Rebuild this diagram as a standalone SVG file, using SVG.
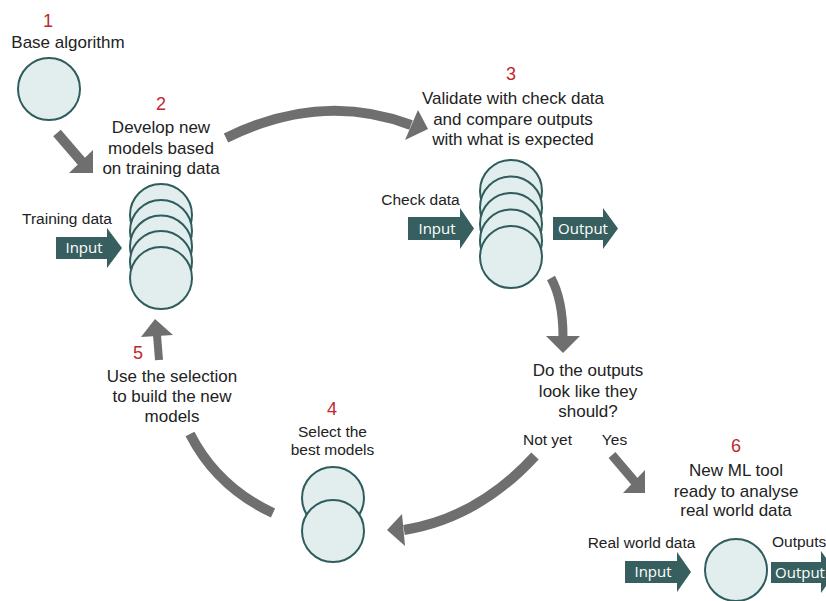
<svg xmlns="http://www.w3.org/2000/svg" width="826" height="601" viewBox="0 0 826 601">
<style>
.c{fill:#e2eeee;stroke:#2f5c5c;stroke-width:2}
.box{fill:#385f60}
.bt{font-family:"Open Sans","Noto Sans",sans-serif;font-size:15px;fill:#ffffff;text-anchor:middle}
.t{font-family:"Liberation Sans",Arial,sans-serif;font-size:17px;fill:#222222;text-anchor:middle}
.s{font-family:"Liberation Sans",Arial,sans-serif;font-size:15.5px;fill:#222222;text-anchor:middle}
.n{font-family:"Liberation Sans",Arial,sans-serif;font-size:18px;fill:#c0272d;text-anchor:middle}
.sh{fill:none;stroke:#6f6f6f;stroke-width:10;stroke-linecap:butt}
.hd{fill:#6f6f6f}
</style>
<rect width="826" height="601" fill="#ffffff"/>

<g id="connectors">
  <line class="sh" x1="57" y1="133" x2="82" y2="162"/>
  <polygon class="hd" points="69,173 93,150 93,173"/>
  <path class="sh" d="M226,138 Q321,91 411,125"/>
  <polygon class="hd" points="418,110 405,140 428,129"/>
  <path class="sh" style="stroke-width:9" d="M551,278 Q563,300 563,337"/>
  <polygon class="hd" points="546,336 580,336 563,353"/>
  <path class="sh" d="M535,456 Q478,518 404,530"/>
  <polygon class="hd" points="402,514 405,546 387,530"/>
  <line class="sh" style="stroke-width:9" x1="612" y1="455" x2="635" y2="482"/>
  <polygon class="hd" points="623,493 645,470 645,493"/>
  <path class="sh" d="M190,434 Q217,487 273,513"/>
  <line class="sh" style="stroke-width:8" x1="159" y1="360" x2="157" y2="335"/>
  <polygon class="hd" points="141,337 173,335 155,319"/>
</g>

<g id="node1">
  <text class="n" x="48" y="27">1</text>
  <text class="t" x="68" y="48">Base algorithm</text>
  <circle class="c" cx="49" cy="89" r="31"/>
</g>

<g id="node2">
  <text class="n" x="161" y="110">2</text>
  <text class="t" x="161" y="133">Develop new</text>
  <text class="t" x="161" y="154">models based</text>
  <text class="t" x="161" y="174">on training data</text>
  <circle class="c" cx="161" cy="215" r="31"/>
  <circle class="c" cx="161" cy="231" r="31"/>
  <circle class="c" cx="161" cy="246.5" r="31"/>
  <circle class="c" cx="161" cy="262" r="31"/>
  <circle class="c" cx="161" cy="278" r="31"/>
  <text class="s" x="67" y="224">Training data</text>
  <path class="box" d="M56,237 H107 V228 L122,248 L107,268 V259 H56 Z"/>
  <text class="bt" x="84" y="253">Input</text>
</g>

<g id="node3">
  <text class="n" x="511" y="80">3</text>
  <text class="t" x="513" y="104">Validate with check data</text>
  <text class="t" x="513" y="124.5">and compare outputs</text>
  <text class="t" x="513" y="144.5">with what is expected</text>
  <circle class="c" cx="511" cy="191" r="31"/>
  <circle class="c" cx="511" cy="207.5" r="31"/>
  <circle class="c" cx="511" cy="224" r="31"/>
  <circle class="c" cx="511" cy="240.5" r="31"/>
  <circle class="c" cx="511" cy="257" r="31"/>
  <text class="s" x="420.5" y="205">Check data</text>
  <path class="box" d="M408,217 H460 V208 L474,228.5 L460,249 V240 H408 Z"/>
  <text class="bt" x="437" y="233.5">Input</text>
  <path class="box" d="M553,217 H603 V208 L618,228.5 L603,249 V240 H553 Z"/>
  <text class="bt" x="583" y="233.5">Output</text>
</g>

<g id="decision">
  <text class="t" x="588" y="376">Do the outputs</text>
  <text class="t" x="588" y="396.5">look like they</text>
  <text class="t" x="588" y="416.5">should?</text>
  <text class="s" x="547.5" y="445">Not yet</text>
  <text class="s" x="614.5" y="445">Yes</text>
</g>

<g id="node4">
  <text class="n" x="332" y="415">4</text>
  <text class="s" x="332.5" y="437">Select the</text>
  <text class="s" x="332.5" y="455">best models</text>
  <circle class="c" cx="333" cy="498" r="31"/>
  <circle class="c" cx="333" cy="531" r="31"/>
</g>

<g id="node5">
  <text class="n" x="138" y="359">5</text>
  <text class="t" x="172" y="382">Use the selection</text>
  <text class="t" x="172" y="402">to build the new</text>
  <text class="t" x="172" y="422">models</text>
</g>

<g id="node6">
  <text class="n" x="736" y="452">6</text>
  <text class="t" x="736" y="476">New ML tool</text>
  <text class="t" x="736" y="496.5">ready to analyse</text>
  <text class="t" x="736" y="516">real world data</text>
  <circle class="c" cx="736" cy="570" r="31"/>
  <text class="s" x="641.5" y="548">Real world data</text>
  <path class="box" d="M625,561 H677 V552 L691,572 L677,592 V583 H625 Z"/>
  <text class="bt" x="653" y="577">Input</text>
  <text class="s" x="772" y="547" style="text-anchor:start">Outputs</text>
  <path class="box" d="M771,562 H821 V551 L836,572 L821,593 V583 H771 Z"/>
  <text class="bt" x="800" y="577.5">Output</text>
</g>
</svg>
